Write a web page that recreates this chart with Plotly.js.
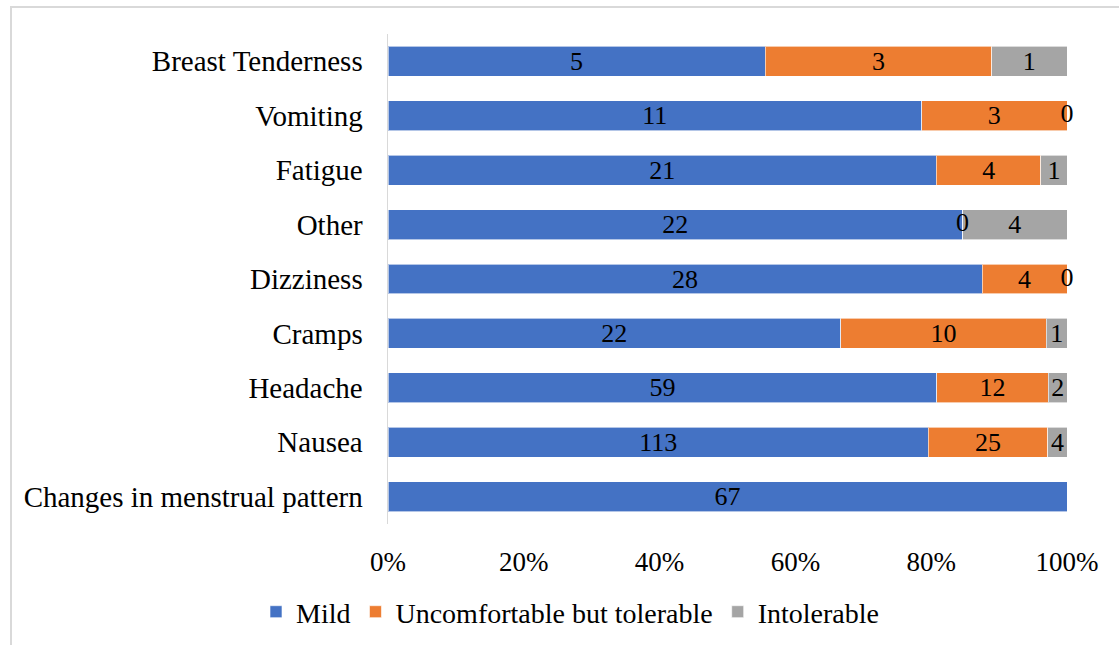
<!DOCTYPE html>
<html><head><meta charset="utf-8">
<script src="https://cdn.plot.ly/plotly-3.0.1.min.js"></script>
<style>body{margin:0;background:#fff}#chart{width:1119px;height:645px}</style>
</head><body><div id="chart"></div>
<script>
const categories = ["Changes in menstrual pattern","Nausea","Headache","Cramps","Dizziness","Other","Fatigue","Vomiting","Breast Tenderness"];
const mild = [67,113,59,22,28,22,21,11,5];
const uncomfortable = [null,25,12,10,4,0,4,3,3];
const intolerable = [null,4,2,1,0,4,1,0,1];
const seriesNames = ["Mild","Uncomfortable but tolerable","Intolerable"];
const colors = ["#4472C4","#ED7D31","#A5A5A5"];
const tickVals = [0,20,40,60,80,100];
const tickText = ["0%","20%","40%","60%","80%","100%"];
const series = [mild, uncomfortable, intolerable];

const F = (s)=>({family:"'Times New Roman', 'Liberation Serif', Tinos, serif", size:s||26, color:"#000"});
const traces = series.map((vals,i)=>({
  type:"bar", orientation:"h", name:seriesNames[i], y:categories, x:vals.map(v=>v===null?0:v),
  marker:{color:colors[i], line:{color:"rgba(255,255,255,0.6)", width:1}},
  text:vals.map(v=>(v===null||v===0)?"":String(v)), textposition:"inside", insidetextanchor:"middle",
  textangle:0, textfont:F(26), insidetextfont:F(26), constraintext:"none", hoverinfo:"x+y+name"
}));
const zx=[], zy=[];
categories.forEach((c,k)=>{
  const tot = series.reduce((s,a)=>s+(a[k]||0),0);
  let cum=0;
  series.forEach(a=>{ const v=a[k]; if(v===0){zx.push(cum/tot*100); zy.push(c);} cum+=(v||0); });
});
traces.push({type:"scatter", mode:"text", x:zx, y:zy, text:zx.map(()=>"0"), textposition:"middle center",
  textfont:F(26), showlegend:false, hoverinfo:"skip", cliponaxis:false});

const layout = {
  width:1119, height:645, paper_bgcolor:"#fff", plot_bgcolor:"#fff",
  margin:{l:388, r:52, t:34, b:121},
  barmode:"stack", barnorm:"percent", bargap:0.45,
  font:F(26),
  xaxis:{range:[0,100], tickmode:"array", tickvals:tickVals, ticktext:tickText, showgrid:false, zeroline:false,
    showline:false, ticks:"outside", ticklen:14, tickcolor:"rgba(0,0,0,0)", tickfont:F(27)},
  yaxis:{categoryorder:"array", categoryarray:categories, range:[-0.5,8.5], showgrid:false, zeroline:false,
    showline:true, linecolor:"#D9D9D9", linewidth:1.5, ticks:"outside", ticklen:18, tickcolor:"rgba(0,0,0,0)", tickfont:F(29)},
  legend:{orientation:"h", xref:"container", yref:"container", x:570/1119, xanchor:"center", y:1-612/645, yanchor:"middle",
    font:F(28), traceorder:"normal", itemwidth:30},
  shapes:[
    {type:"line", xref:"paper", yref:"paper", x0:-378/679, x1:(1119-388)/679, y0:(524-7)/490, y1:(524-7)/490, line:{color:"#D9D9D9", width:2}},
    {type:"line", xref:"paper", yref:"paper", x0:-377/679, x1:-377/679, y0:(524-7)/490, y1:-121/490, line:{color:"#D9D9D9", width:2}}
  ]
};
Plotly.newPlot("chart", traces, layout, {displayModeBar:false, staticPlot:true});
</script></body></html>
